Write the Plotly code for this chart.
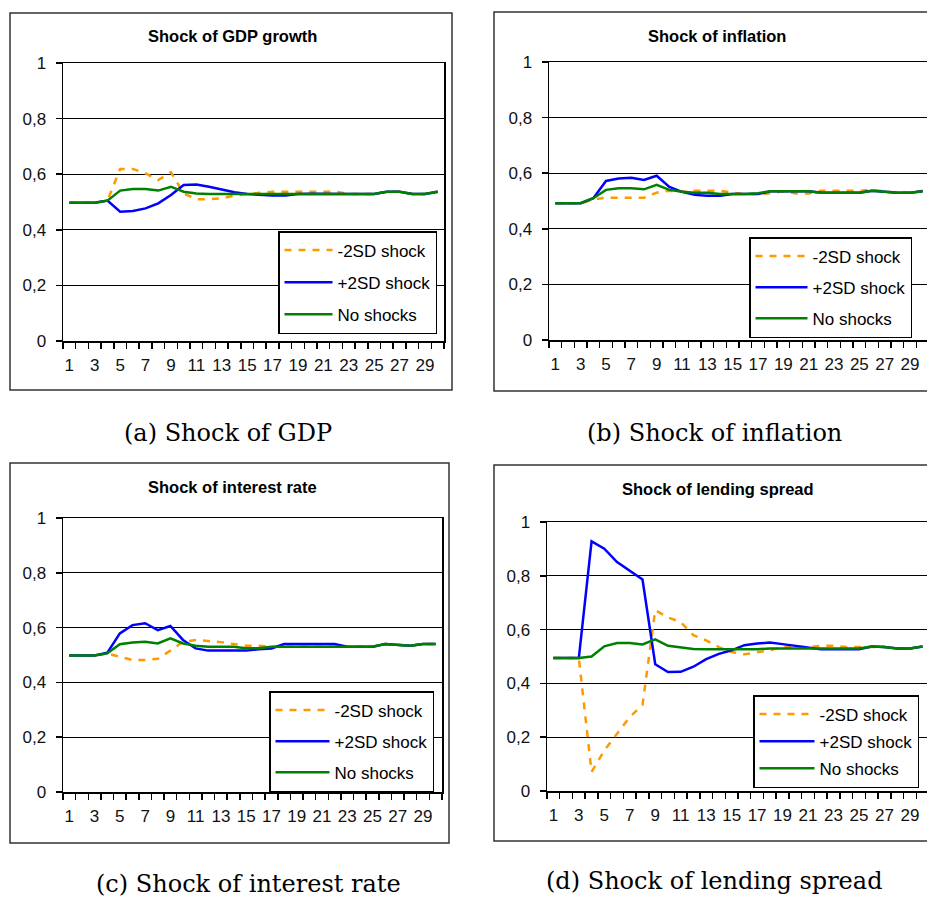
import plotly.graph_objects as go

W, H = 927, 899

periods = list(range(1, 31))
x_tick_vals = list(range(1, 30, 2))
x_tick_labels = [str(v) for v in x_tick_vals]
y_tick_vals = [0, 0.2, 0.4, 0.6, 0.8, 1]
y_tick_labels = ["0", "0,2", "0,4", "0,6", "0,8", "1"]
series_names = ["-2SD shock", "+2SD shock", "No shocks"]

panel_titles = ["Shock of GDP growth", "Shock of inflation",
                "Shock of interest rate", "Shock of lending spread"]
captions = ["(a) Shock of GDP", "(b) Shock of inflation",
            "(c) Shock of interest rate", "(d) Shock of lending spread"]

# (a) GDP growth shock
gdp_minus = [0.497, 0.497, 0.497, 0.505, 0.619, 0.619, 0.603, 0.579, 0.607, 0.531,
             0.510, 0.510, 0.513, 0.523, 0.529, 0.533, 0.537, 0.537, 0.537, 0.537,
             0.537, 0.537, 0.529, 0.529, 0.529, 0.537, 0.537, 0.529, 0.529, 0.537]
gdp_plus = [0.497, 0.497, 0.497, 0.505, 0.465, 0.468, 0.477, 0.495, 0.525, 0.561,
            0.563, 0.555, 0.545, 0.535, 0.529, 0.526, 0.523, 0.523, 0.529, 0.530,
            0.529, 0.529, 0.529, 0.529, 0.529, 0.537, 0.537, 0.529, 0.529, 0.537]
gdp_none = [0.497, 0.497, 0.497, 0.505, 0.541, 0.547, 0.547, 0.541, 0.555, 0.537,
            0.531, 0.529, 0.529, 0.529, 0.529, 0.529, 0.529, 0.529, 0.529, 0.529,
            0.529, 0.529, 0.529, 0.529, 0.529, 0.537, 0.537, 0.529, 0.529, 0.537]

# (b) inflation shock
inf_minus = [0.492, 0.492, 0.492, 0.505, 0.512, 0.512, 0.512, 0.512, 0.530, 0.537,
             0.533, 0.537, 0.537, 0.537, 0.530, 0.525, 0.525, 0.528, 0.535, 0.527,
             0.527, 0.537, 0.537, 0.537, 0.537, 0.540, 0.535, 0.530, 0.530, 0.537]
inf_plus = [0.492, 0.492, 0.492, 0.510, 0.572, 0.581, 0.584, 0.576, 0.591, 0.551,
            0.533, 0.522, 0.519, 0.519, 0.525, 0.525, 0.525, 0.535, 0.535, 0.535,
            0.535, 0.530, 0.530, 0.530, 0.530, 0.537, 0.533, 0.530, 0.530, 0.535]
inf_none = [0.492, 0.492, 0.492, 0.510, 0.540, 0.546, 0.546, 0.542, 0.558, 0.540,
            0.533, 0.530, 0.530, 0.525, 0.525, 0.525, 0.528, 0.535, 0.535, 0.535,
            0.535, 0.530, 0.530, 0.530, 0.530, 0.537, 0.533, 0.530, 0.530, 0.535]

# (c) interest rate shock
int_minus = [0.498, 0.498, 0.498, 0.505, 0.494, 0.482, 0.482, 0.486, 0.516, 0.548,
             0.555, 0.551, 0.547, 0.540, 0.534, 0.534, 0.530, 0.530, 0.530, 0.530,
             0.530, 0.530, 0.530, 0.530, 0.530, 0.540, 0.536, 0.534, 0.540, 0.540]
int_plus = [0.498, 0.498, 0.498, 0.508, 0.579, 0.609, 0.616, 0.591, 0.606, 0.555,
            0.524, 0.516, 0.516, 0.516, 0.516, 0.521, 0.524, 0.540, 0.540, 0.540,
            0.540, 0.540, 0.530, 0.530, 0.530, 0.540, 0.536, 0.534, 0.540, 0.540]
int_none = [0.498, 0.498, 0.498, 0.506, 0.539, 0.546, 0.548, 0.542, 0.561, 0.542,
            0.534, 0.530, 0.530, 0.530, 0.525, 0.525, 0.530, 0.530, 0.530, 0.530,
            0.530, 0.530, 0.530, 0.530, 0.530, 0.540, 0.536, 0.534, 0.540, 0.540]

# (d) lending spread shock
lend_minus = [0.494, 0.494, 0.494, 0.071, 0.151, 0.213, 0.275, 0.320, 0.672, 0.645,
              0.628, 0.579, 0.560, 0.535, 0.517, 0.508, 0.515, 0.523, 0.535, 0.535,
              0.535, 0.540, 0.540, 0.535, 0.535, 0.537, 0.535, 0.530, 0.530, 0.537]
lend_plus = [0.494, 0.494, 0.494, 0.928, 0.901, 0.851, 0.820, 0.786, 0.471, 0.442,
             0.443, 0.462, 0.490, 0.510, 0.523, 0.542, 0.548, 0.552, 0.546, 0.540,
             0.535, 0.527, 0.527, 0.527, 0.527, 0.537, 0.535, 0.530, 0.530, 0.537]
lend_none = [0.494, 0.494, 0.494, 0.500, 0.538, 0.550, 0.550, 0.545, 0.564, 0.540,
             0.533, 0.528, 0.527, 0.527, 0.527, 0.527, 0.527, 0.530, 0.530, 0.530,
             0.530, 0.530, 0.530, 0.530, 0.530, 0.537, 0.535, 0.530, 0.530, 0.537]

panel_series = [
    (gdp_minus, gdp_plus, gdp_none),
    (inf_minus, inf_plus, inf_none),
    (int_minus, int_plus, int_none),
    (lend_minus, lend_plus, lend_none),
]

# ---- styling / layout (pixel geometry) ----
colors = ["#FF9900", "#0000FF", "#008000"]
dashes = ["7px,7px", "solid", "solid"]
FONT = "Liberation Sans"

# plot areas: (left, right, top, bottom) in px
plot_boxes = [(63, 444, 63, 341), (549, 929, 62, 340),
              (63, 442, 518, 792), (547, 929, 522, 791)]
outer_boxes = [(10, 452, 13, 390), (494, 960, 12, 391),
               (10, 449, 463, 843), (494, 960, 465, 841)]
title_pos = [(233, 36), (717, 36), (233, 487), (718, 489)]
caption_pos = [(228, 433), (714, 433), (248, 884), (714, 881)]
legend_pos = [(278, 231), (749, 237), (269, 691), (753, 695)]
legend_gap = [7, 6, 6, 2]
legend_itemwidth = [48, 52, 54, 55]


def px(x):
    return x / W


def py(y):
    return 1 - y / H


fig = go.Figure()
layout = dict(
    width=W, height=H, margin=dict(l=0, r=0, t=0, b=0, pad=0, autoexpand=False),
    paper_bgcolor="white", plot_bgcolor="white",
    separators=", ",
    font=dict(family=FONT, size=17, color="black"),
    shapes=[], annotations=[],
)

for k in range(4):
    ax = "" if k == 0 else str(k + 1)
    l, r, t, b = plot_boxes[k]
    right_clip = r > W
    x_dom_end = 1.0 if right_clip else px(r)
    x_end = 0.5 + 30 * ((W if right_clip else r) - l) / (r - l)
    legend_name = "legend" if k == 0 else f"legend{k + 1}"
    for s in range(3):
        fig.add_trace(go.Scatter(
            x=periods, y=panel_series[k][s], mode="lines",
            name=series_names[s],
            line=dict(color=colors[s], width=2.5, dash=dashes[s]),
            xaxis="x" + ax, yaxis="y" + ax,
            legend=legend_name, legendgroup=f"g{k}{s}",
            hoverinfo="skip",
        ))
    layout["xaxis" + ax] = dict(
        domain=[px(l), x_dom_end], range=[0.5, x_end], anchor="y" + ax,
        automargin=False,
        tickmode="array", tickvals=x_tick_vals, ticktext=x_tick_labels,
        ticks="", showgrid=False, zeroline=False, ticklabelstandoff=8,
        showline=True, linecolor="black", linewidth=1.5, mirror=True,
        tickfont=dict(family=FONT, size=17, color="#111"),
        minor=dict(tickmode="array", tickvals=[i + 0.5 for i in range(0, 31)],
                   ticks="outside", ticklen=6, tickwidth=1.5, tickcolor="black",
                   showgrid=False),
        fixedrange=True,
    )
    layout["yaxis" + ax] = dict(
        domain=[py(b), py(t)], range=[0, 1], anchor="x" + ax,
        automargin=False,
        tickmode="array", tickvals=y_tick_vals, ticktext=y_tick_labels,
        ticks="outside", ticklen=6, tickwidth=1.5, tickcolor="black",
        ticklabelstandoff=6,
        showgrid=True, gridcolor="black", gridwidth=1.3, zeroline=False,
        showline=True, linecolor="black", linewidth=1.5, mirror=not right_clip,
        tickfont=dict(family=FONT, size=17, color="#111"),
        fixedrange=True,
    )
    lx, ly = legend_pos[k]
    layout[legend_name] = dict(
        x=px(lx), y=py(ly), xanchor="left", yanchor="top",
        bgcolor="white", bordercolor="black", borderwidth=1.5,
        font=dict(family=FONT, size=17, color="black"),
        itemwidth=legend_itemwidth[k], tracegroupgap=legend_gap[k],
        traceorder="grouped",
    )
    ox0, ox1, oy0, oy1 = outer_boxes[k]
    layout["shapes"].append(dict(
        type="rect", xref="paper", yref="paper",
        x0=px(ox0), x1=px(ox1), y0=py(oy1), y1=py(oy0),
        line=dict(color="#333", width=1.5), layer="below",
    ))
    tx, ty = title_pos[k]
    layout["annotations"].append(dict(
        text="<b>" + panel_titles[k] + "</b>", xref="paper", yref="paper",
        x=px(tx), y=py(ty), xanchor="center", yanchor="middle", showarrow=False,
        font=dict(family=FONT, size=16.5, color="black"),
    ))
    cx, cy = caption_pos[k]
    layout["annotations"].append(dict(
        text=captions[k], xref="paper", yref="paper",
        x=px(cx), y=py(cy), xanchor="center", yanchor="middle", showarrow=False,
        font=dict(family="DejaVu Serif", size=24, color="black"),
    ))

fig.update_layout(**layout)
fig.write_html(
    "out.html",
    config={"displayModeBar": False, "staticPlot": True},
    post_script="document.body.style.margin='0';document.body.style.overflow='hidden';",
)
